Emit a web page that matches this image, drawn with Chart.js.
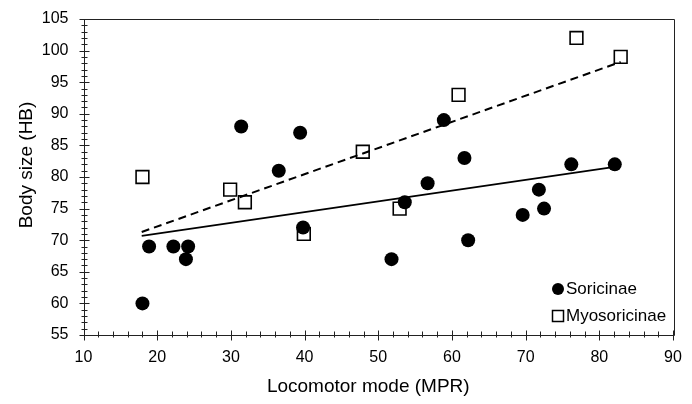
<!DOCTYPE html>
<html>
<head>
<meta charset="utf-8">
<script src="https://cdn.jsdelivr.net/npm/chart.js@4"></script>
<style>
  body { margin: 0; background: #fff; }
  #wrap { width: 692px; height: 404px; }
</style>
</head>
<body>
<div id="wrap"><canvas id="grafico"></canvas></div>
<script>
// Soricinae (filled circles)
const soricX = [18, 18.9, 22.2, 24.2, 23.9, 31.4, 36.5, 39.4, 39.8, 51.8, 53.6, 56.7, 58.9, 61.7, 62.2, 69.6, 71.8, 72.5, 76.2, 82.1];
const soricY = [60, 69, 69, 69, 67, 88, 81, 87, 72, 67, 76, 79, 89, 83, 70, 74, 78, 75, 82, 82];

// Myosoricinae (open squares)
const myoX = [18, 29.9, 31.9, 39.9, 47.9, 52.9, 60.9, 76.9, 82.9];
const myoY = [80, 78, 76, 71, 84, 75, 93, 102, 99];

// trend lines, endpoints
const soricTrendX = [17.9, 82.1];
const soricTrendY = [70.7, 81.6];
const myoTrendX = [17.9, 82.9];
const myoTrendY = [71.3, 98.2];

// axes
const xTicks = [10, 20, 30, 40, 50, 60, 70, 80, 90];
const yTicks = [55, 60, 65, 70, 75, 80, 85, 90, 95, 100, 105];
const xMinorStep = 2;
const yMinorStep = 1;

const legendLabels = ['Soricinae', 'Myosoricinae'];
const xTitle = 'Locomotor mode (MPR)';
const yTitle = 'Body size (HB)';

const fonte = '"Liberation Sans", Arial, sans-serif';

function pares(xs, ys) {
    return xs.map((x, i) => ({ x: x, y: ys[i] }));
}

// frame, ticks, titles and legend
const extras = {
    id: 'extras',
    afterDraw(chart) {
        const ctx = chart.ctx;
        const a = chart.chartArea;
        const sx = chart.scales.x;
        const sy = chart.scales.y;
        ctx.save();
        ctx.strokeStyle = '#222';
        ctx.lineWidth = 1;
        ctx.beginPath();
        ctx.rect(Math.round(a.left) + 0.5, Math.round(a.top) + 0.5, Math.round(a.right - a.left), Math.round(a.bottom - a.top));
        ctx.stroke();

        // x ticks
        const yb = Math.round(a.bottom) + 0.5;
        ctx.beginPath();
        for (let v = xTicks[0]; v <= xTicks[xTicks.length - 1]; v += xMinorStep) {
            const px = Math.round(sx.getPixelForValue(v)) + 0.5;
            const major = xTicks.includes(v);
            ctx.moveTo(px, yb - (major ? 5 : 4));
            ctx.lineTo(px, yb + (major ? 5 : 2));
        }
        // y ticks
        const xl = Math.round(a.left) + 0.5;
        for (let v = yTicks[0]; v <= yTicks[yTicks.length - 1]; v += yMinorStep) {
            const py = Math.round(sy.getPixelForValue(v)) + 0.5;
            const major = yTicks.includes(v);
            ctx.moveTo(xl - (major ? 5 : 3), py);
            ctx.lineTo(xl + (major ? 5 : 3), py);
        }
        ctx.stroke();

        // titles
        ctx.fillStyle = '#000';
        ctx.font = '19px ' + fonte;
        ctx.textAlign = 'center';
        ctx.textBaseline = 'middle';
        ctx.fillText(xTitle, (a.left + a.right) / 2 - 10, 387);
        ctx.save();
        ctx.translate(27, (a.top + a.bottom) / 2 - 12);
        ctx.rotate(-Math.PI / 2);
        ctx.fillText(yTitle, 0, 0);
        ctx.restore();

        // legend
        const lx = a.right - 115;
        const ly1 = a.bottom - 46;
        const ly2 = a.bottom - 19;
        ctx.beginPath();
        ctx.arc(lx, ly1, 6, 0, Math.PI * 2);
        ctx.fill();
        ctx.lineWidth = 1.5;
        ctx.strokeStyle = '#000';
        ctx.fillStyle = '#fff';
        ctx.fillRect(lx - 5.5, ly2 - 5.5, 11, 11);
        ctx.strokeRect(lx - 5.5, ly2 - 5.5, 11, 11);
        ctx.fillStyle = '#000';
        ctx.font = '17px ' + fonte;
        ctx.textAlign = 'left';
        ctx.fillText(legendLabels[0], lx + 8, ly1);
        ctx.fillText(legendLabels[1], lx + 8, ly2);
        ctx.restore();
    }
};

const ctx = document.getElementById('grafico').getContext('2d');

const grafico = new Chart(ctx, {
    type: 'scatter',
    data: {
        datasets: [
            {
                label: legendLabels[0] + ' trend',
                type: 'line',
                data: pares(soricTrendX, soricTrendY),
                borderColor: '#000',
                borderWidth: 1.8,
                pointRadius: 0,
                fill: false
            },
            {
                label: legendLabels[1] + ' trend',
                type: 'line',
                data: pares(myoTrendX, myoTrendY),
                borderColor: '#000',
                borderWidth: 2,
                borderDash: [8, 5],
                pointRadius: 0,
                fill: false
            },
            {
                label: legendLabels[0],
                data: pares(soricX, soricY),
                pointStyle: 'circle',
                pointRadius: 7,
                backgroundColor: '#000',
                borderColor: '#000',
                borderWidth: 0
            },
            {
                label: legendLabels[1],
                data: pares(myoX, myoY),
                pointStyle: 'rect',
                pointRadius: 9,
                backgroundColor: '#fff',
                borderColor: '#000',
                borderWidth: 1.6
            }
        ]
    },
    options: {
        responsive: true,
        maintainAspectRatio: false,
        animation: false,
        layout: { padding: { top: 19, right: 19, left: 0, bottom: 0 } },
        scales: {
            x: {
                type: 'linear',
                min: 10,
                max: 90,
                afterFit(scale) {
                    scale.height = 69;
                    scale.paddingLeft = 0;
                    scale.paddingRight = 0;
                },
                afterBuildTicks(scale) { scale.ticks = xTicks.map(v => ({ value: v })); },
                grid: { display: false },
                border: { display: false },
                ticks: { color: '#000', padding: 5, font: { family: fonte, size: 16 } }
            },
            y: {
                min: 55,
                max: 105,
                afterFit(scale) {
                    scale.width = 83.5;
                    scale.paddingTop = 0;
                    scale.paddingBottom = 0;
                },
                afterBuildTicks(scale) { scale.ticks = yTicks.map(v => ({ value: v })); },
                grid: { display: false },
                border: { display: false },
                ticks: { color: '#000', padding: 7, font: { family: fonte, size: 16 } }
            }
        },
        plugins: {
            legend: { display: false },
            tooltip: { enabled: false }
        }
    },
    plugins: [extras]
});
</script>
</body>
</html>
